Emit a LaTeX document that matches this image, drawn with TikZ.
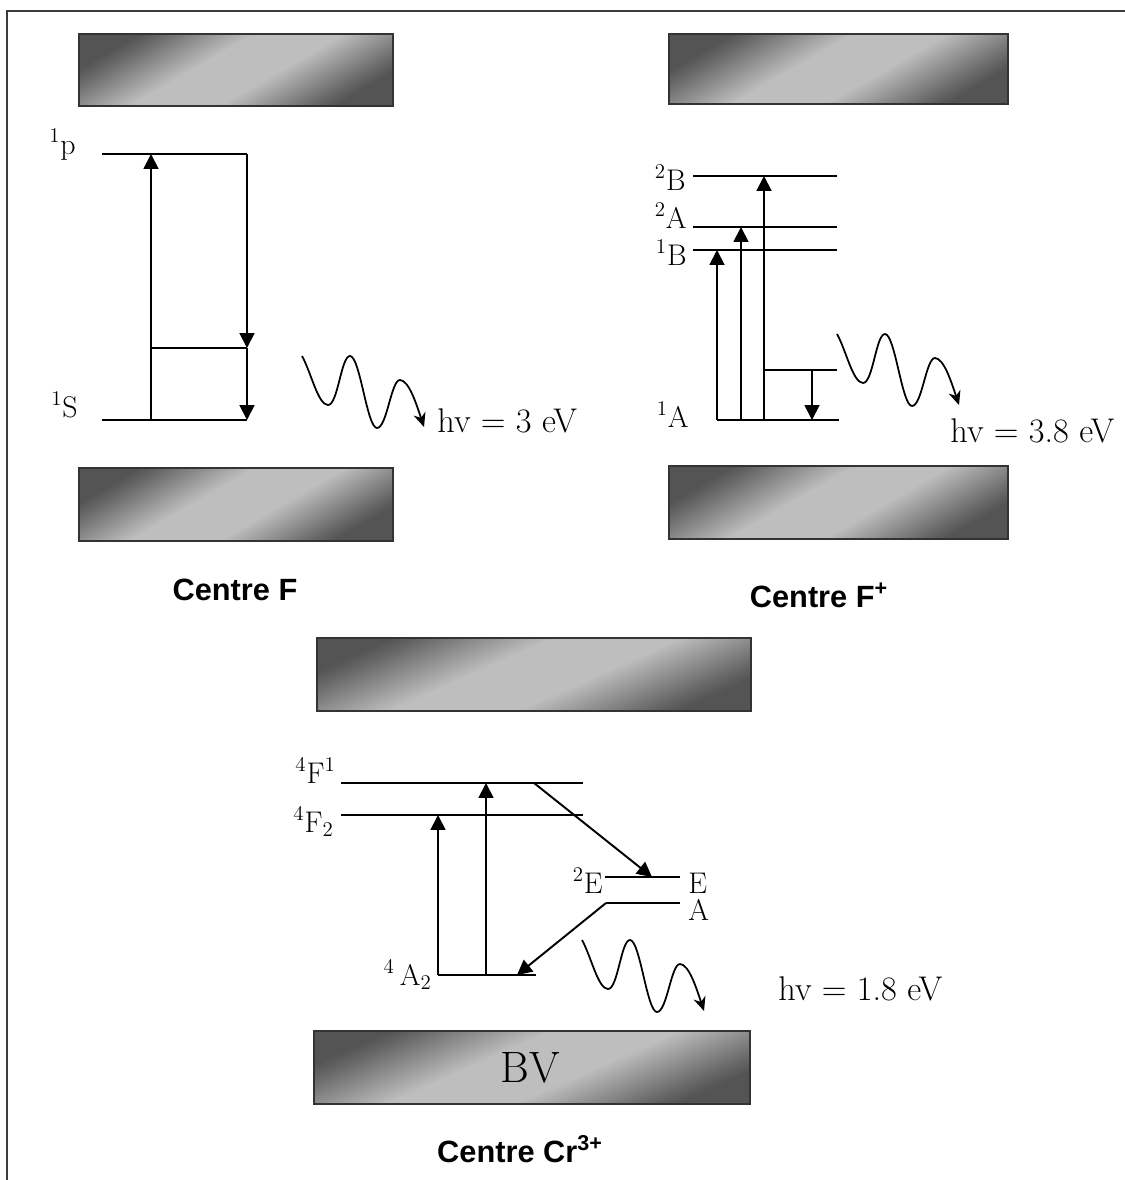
\documentclass[tikz,border=0pt]{standalone}
\usepackage{fontspec}
\setsansfont{Liberation Sans}
\usetikzlibrary{arrows.meta}

% degrade des bandes
\pgfdeclarehorizontalshading{bandeshade}{100bp}{rgb(0bp)=(0.33,0.33,0.33); rgb(25bp)=(0.33,0.33,0.33); rgb(28bp)=(0.39,0.39,0.39); rgb(43bp)=(0.745,0.745,0.745); rgb(57bp)=(0.745,0.745,0.745); rgb(72bp)=(0.39,0.39,0.39); rgb(75bp)=(0.33,0.33,0.33); rgb(100bp)=(0.33,0.33,0.33)}

\begin{document}
\begin{tikzpicture}[x=0.02cm, y=-0.02cm,
  niv/.style={line width=1.1pt},
  fleche/.style={line width=1.1pt, -{Triangle[length=8.5pt,width=8.5pt]}},
  bande/.style={draw=black!80, line width=1pt, shade, shading=bandeshade, shading angle=-60},
  etat/.style={font=\fontsize{17}{20}\selectfont, inner sep=0pt},
  energie/.style={font=\fontsize{19.5}{23}\selectfont, inner sep=0pt, anchor=base west},
  titre/.style={font=\sffamily\bfseries\fontsize{17.5}{21}\selectfont, inner sep=0pt, anchor=base},
  photon/.pic={\draw[line width=1pt, -{Stealth[length=8pt,width=7pt]}]
    (0,0) .. controls (9,16) and (16,49) .. (26,49)
    .. controls (36,49) and (39,0) .. (48,0)
    .. controls (58,0) and (65,72) .. (75,72)
    .. controls (85,72) and (89,24) .. (98,24)
    .. controls (107,24) and (115,50) .. (122,71);}
]

\definecolor{cadreGris}{HTML}{3C3C3C}

\useasboundingbox (0,0) rectangle (1125,1180);

% Cadre
\draw[cadreGris, line width=1.4pt] (7,1180) -- (7,11) -- (1125,11);

% Bandes
\path[bande] (79,34) rectangle (393,106);
\path[bande] (79,468) rectangle (393,541);
\path[bande] (669,34) rectangle (1008,104);
\path[bande] (669,466) rectangle (1008,539);
\path[bande, shading angle=-66] (317,638) rectangle (751,711);
\path[bande, shading angle=-66] (314,1031) rectangle (750,1104);
\node[font=\fontsize{25}{29}\selectfont, inner sep=0pt, anchor=base] (bv) at (530,1082) {BV};

% Centre F
\draw[niv] (102,154) -- (247,154) coordinate (Fp);
\draw[niv] (151,348) coordinate (Fm) -- (247,348) coordinate (Fmd);
\draw[niv] (102,420) -- (247,420) coordinate (Fs);
\draw[fleche] (Fm |- Fs) -- (Fm |- Fp);
\draw[fleche] (Fp) -- (Fmd);
\draw[fleche] (Fmd) -- (Fs);
\node[etat, anchor=base east] (lp) at (76,154) {\textsuperscript{1}p};
\node[etat, anchor=base east] (lS) at (78,417) {\textsuperscript{1}S};
\pic (ondeF) at (302,356) {photon};
\node[energie] (hvF) at (437,432) {hv = 3 eV};
\node[titre] (tF) at (235,600) {Centre F};

% Centre F+
\draw[niv] (693,176) -- (764,176) coordinate (B2) -- (837,176);
\draw[niv] (693,227) -- (741,227) coordinate (A2) -- (837,227);
\draw[niv] (693,250) -- (717,250) coordinate (B1) -- (837,250);
\draw[niv] (717,420) coordinate (A1a) -- (741,420) coordinate (A1b) -- (764,420) coordinate (A1c)
  -- (812,420) coordinate (A1d) -- (839,420);
\draw[niv] (764,370) -- (812,370) coordinate (Ai) -- (837,370);
\draw[fleche] (A1a) -- (B1);
\draw[fleche] (A1b) -- (A2);
\draw[fleche] (A1c) -- (B2);
\draw[fleche] (Ai) -- (A1d);
\node[etat, anchor=base east] (l2B) at (686,190) {\textsuperscript{2}B};
\node[etat, anchor=base east] (l2A) at (687,228) {\textsuperscript{2}A};
\node[etat, anchor=base east] (l1B) at (687,265) {\textsuperscript{1}B};
\node[etat, anchor=base east] (l1A) at (689,427) {\textsuperscript{1}A};
\pic (ondeFp) at (837,334) {photon};
\node[energie] (hvFp) at (950,442) {hv = 3.8 eV};
\node[titre] (tFp) at (819,607) {Centre F\textsuperscript{+}};

% Centre Cr3+
\draw[niv] (341,783) -- (486,783) coordinate (F1b) -- (534,783) coordinate (F1c) -- (583,783);
\draw[niv] (341,815) -- (438,815) coordinate (F2a) -- (583,815);
\draw[niv] (438,975) coordinate (Ga) -- (486,975) coordinate (Gb) -- (517,975) coordinate (Gc) -- (536,975);
\draw[niv] (605,877) -- (652,877) coordinate (Eb) -- (680,877);
\draw[niv] (606,903) coordinate (Aa) -- (680,903);
\draw[fleche] (Ga) -- (F2a);
\draw[fleche] (Gb) -- (F1b);
\draw[fleche] (F1c) -- (Eb);
\draw[fleche] (Aa) -- (Gc);
\node[etat, anchor=base east] (l4F1) at (336,783) {\textsuperscript{4}F\textsuperscript{1}};
\node[etat, anchor=base east] (l4F2) at (334,832) {\textsuperscript{4}F\textsubscript{2}};
\node[etat, anchor=base east] (l4A2) at (432,985) {\textsuperscript{4}\,A\textsubscript{2}};
\node[etat, anchor=base east] (l2E) at (603,893) {\textsuperscript{2}E};
\node[etat, anchor=base west] (lE) at (688,893) {E};
\node[etat, anchor=base west] (lA) at (688,920) {A};
\pic (ondeCr) at (582,940) {photon};
\node[energie] (hvCr) at (778,1000) {hv = 1.8 eV};
\node[titre] (tCr) at (520,1162) {Centre Cr\textsuperscript{3+}};

\end{tikzpicture}
\end{document}
